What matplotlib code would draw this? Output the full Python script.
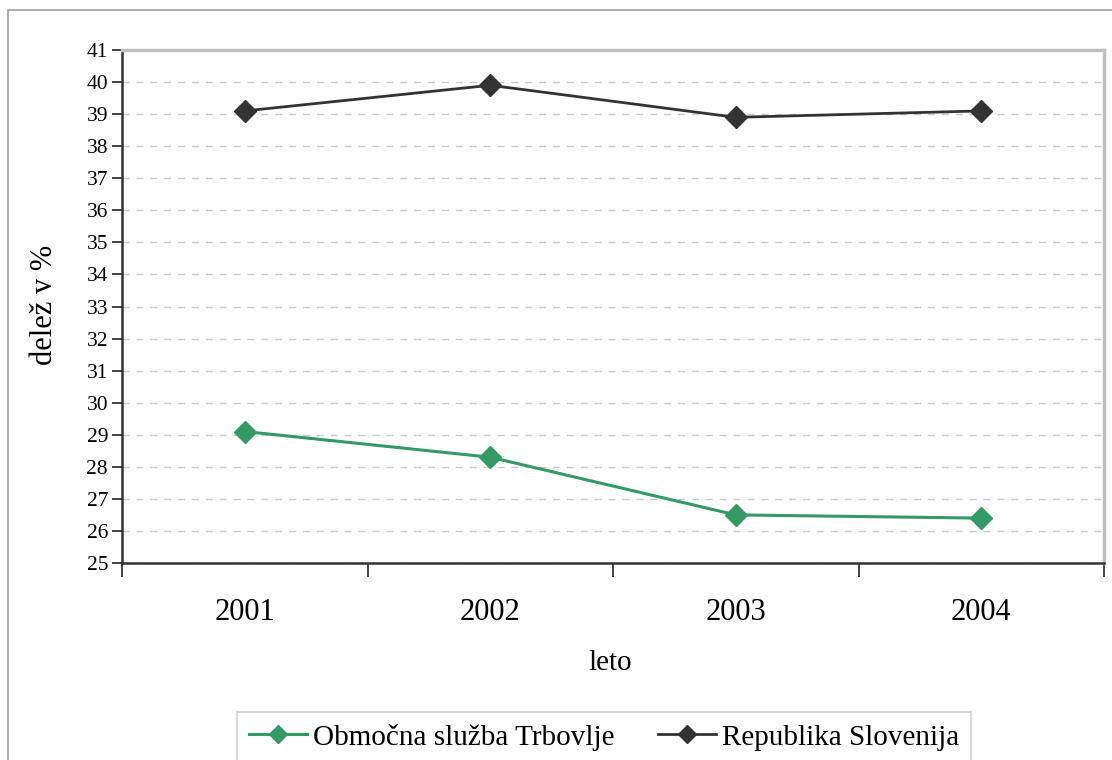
import matplotlib.pyplot as plt
from matplotlib.patches import Rectangle

# delež po letih
years = ['2001', '2002', '2003', '2004']
trbovlje = [29.1, 28.3, 26.5, 26.4]
slovenija = [39.1, 39.9, 38.9, 39.1]
labels = ['Območna služba Trbovlje', 'Republika Slovenija']

plt.rcParams['font.family'] = ['Liberation Serif', 'DejaVu Serif']

fig = plt.figure(figsize=(11.12, 7.6), dpi=100)

# outer chart frame (runs off the right and bottom edge)
fig.patches.append(Rectangle((8 / 1112, -0.05), 1.1, 1 - 10 / 760 + 0.05,
                             transform=fig.transFigure, fill=False,
                             edgecolor='#a0a0a0', linewidth=1.2))

ax = fig.add_axes([122 / 1112, 197 / 760, 982 / 1112, 513 / 760])
x = range(len(years))

l1, = ax.plot(x, trbovlje, color='#339966', linewidth=2.2, marker='D',
              markersize=11, zorder=3)
l2, = ax.plot(x, slovenija, color='#333333', linewidth=2.0, marker='D',
              markersize=11, zorder=3)

ax.set_xlim(-0.5, 3.5)
ax.set_ylim(25, 41)
ax.set_yticks(range(25, 42))
ax.tick_params(axis='y', labelsize=15.5, length=7, width=1.2, color='#222222', pad=3)
ax.yaxis.grid(True, linestyle=(0, (5, 5)), color='#c8c8c8', linewidth=1)
ax.set_axisbelow(True)

# category boundary ticks, labels centred under each year
ax.set_xticks([-0.5, 0.5, 1.5, 2.5, 3.5])
ax.set_xticklabels([])
ax.tick_params(axis='x', length=10, width=1.2, color='#222222')
ax.set_xticks(list(x), minor=True)
ax.set_xticklabels(years, minor=True, fontsize=22)
ax.tick_params(axis='x', which='minor', length=0, pad=25)

for side in ['left', 'bottom']:
    ax.spines[side].set_color('#333333')
    ax.spines[side].set_linewidth(1.8)
for side in ['top', 'right']:
    ax.spines[side].set_color('#c0c0c0')
    ax.spines[side].set_linewidth(2.5)

fig.text(45 / 1112, 1 - 305 / 760, 'delež v %', rotation=90, fontsize=22,
         ha='center', va='center')
fig.text(610 / 1112, 1 - 663 / 760, 'leto', fontsize=21, ha='center', va='center')

leg = fig.legend([l1, l2], labels, loc='upper left',
                 bbox_to_anchor=(237 / 1112, 1 - 712 / 760), borderaxespad=0,
                 ncol=2, fontsize=21, frameon=True, fancybox=False,
                 handlelength=2.0, handletextpad=0.2,
                 columnspacing=1.5, borderpad=0.4, markerscale=0.8)
leg.get_frame().set_edgecolor('#c0c0c0')
leg.get_frame().set_linewidth(1.2)

fig.savefig('out.png', dpi=100)
